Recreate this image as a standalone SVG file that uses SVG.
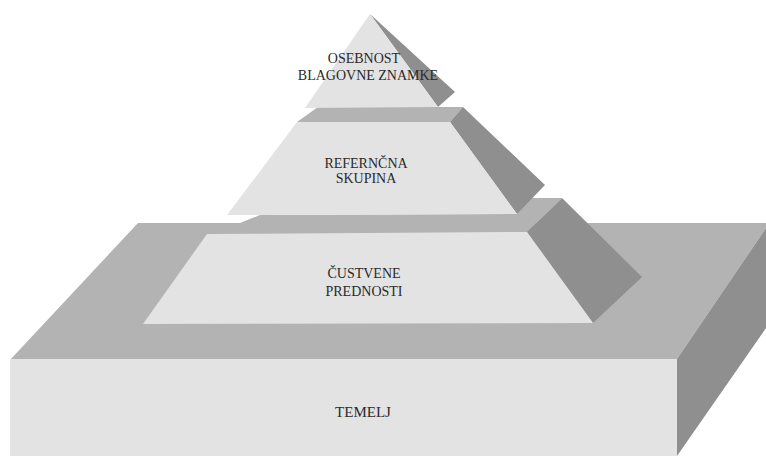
<svg xmlns="http://www.w3.org/2000/svg" width="766" height="476" viewBox="0 0 766 476">
<style>
.front{fill:#e3e3e3}
.top{fill:#b3b3b3}
.side{fill:#8f8f8f}
.lbl{font-family:"Liberation Serif","Times New Roman",serif;font-size:14px;fill:#2a2a2a;text-anchor:middle}
</style>
<rect width="766" height="476" fill="#ffffff"/>
<g id="temelj">
<polygon class="top" points="10,360 138,223 766,223 766,228 677,359"/>
<polygon class="side" points="677,359 766,228 766,328 677,456"/>
<rect class="front" x="10" y="359" width="667" height="97"/>
<text class="lbl" x="363" y="417" style="font-size:15px">TEMELJ</text>
</g>
<g id="custvene-prednosti">
<polygon class="top" points="207,234 240,223 260,215 517,214 523,198 562,198 527,232"/>
<polygon class="side" points="527,232 562,198 642,277 593,323"/>
<polygon class="front" points="143,324 593,323 527,232 207,234"/>
<text class="lbl" x="364" y="278">ČUSTVENE</text>
<text class="lbl" x="364" y="296">PREDNOSTI</text>
</g>
<g id="refernecna-skupina">
<polygon class="top" points="297,122 450,122 463,107 318,107"/>
<polygon class="side" points="450,122 463,107 545,185 517,214"/>
<polygon class="front" points="227,215 517,214 450,122 297,122"/>
<text class="lbl" x="366" y="168">REFERNČNA</text>
<text class="lbl" x="366" y="183">SKUPINA</text>
</g>
<g id="osebnost-blagovne-znamke">
<polygon class="side" points="370,14 455,92 438,107"/>
<polygon class="front" points="370,14 438,107 305,108"/>
<text class="lbl" x="364" y="63">OSEBNOST</text>
<text class="lbl" x="368" y="80">BLAGOVNE ZNAMKE</text>
</g>
</svg>
